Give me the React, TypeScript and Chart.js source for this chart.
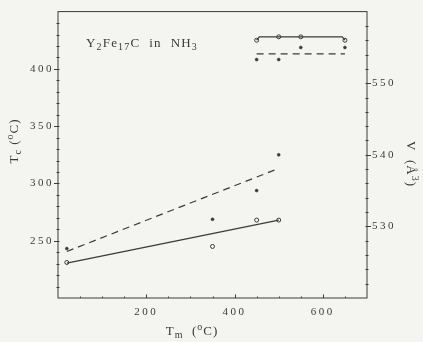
import React, { useEffect, useRef } from 'react';
import { Chart, registerables } from 'chart.js';
Chart.register(...registerables);

// ---- data ----
const TM_OPEN = [20, 350, 450, 500];
const TC_OPEN = [231, 245, 268, 268];
const TM_OPEN_HI = [450, 500, 550, 650];
const TC_OPEN_HI = [425, 428, 428, 425];
const TM_FILLED = [20, 350, 450, 500];
const V_FILLED = [526.9, 531.0, 535.0, 540.0];
const TM_FILLED_HI = [450, 500, 550, 650];
const V_FILLED_HI = [553.3, 553.3, 555.0, 555.0];
const TC_FIT_X = [20, 500];
const TC_FIT_Y = [230.5, 268];
const TC_FIT_HI_X = [450, 456, 644, 650];
const TC_FIT_HI_Y = [425, 428, 428, 425];
const V_FIT_X = [20, 500];
const V_FIT_Y = [526.5, 538.1];
const V_FIT_HI_X = [450, 650];
const V_FIT_HI_Y = [554.1, 554.1];
const X_TICKS = [200, 400, 600];
const TC_TICKS = [250, 300, 350, 400];
const V_TICKS = [530, 540, 550];

const INK = '#3a3a3a';
const BG = '#f4f4f1';
const FONT = "'Liberation Serif', 'DejaVu Serif', serif";

const pts = (xs: number[], ys: number[]) => xs.map((x, i) => ({ x, y: ys[i] }));

type Part = [string, number]; // 0 normal, 1 sub, 2 sup
function drawRich(ctx: CanvasRenderingContext2D, parts: Part[], size: number) {
  const fontFor = (m: number) => `${m === 0 ? size : Math.round(size * 0.75)}px ${FONT}`;
  let total = 0;
  for (const [t, m] of parts) { ctx.font = fontFor(m); total += ctx.measureText(t).width; }
  let x = -total / 2;
  ctx.textAlign = 'left';
  ctx.textBaseline = 'middle';
  for (const [t, m] of parts) {
    ctx.font = fontFor(m);
    const dy = m === 1 ? size * 0.28 : m === 2 ? -size * 0.35 : 0;
    ctx.fillText(t, x, dy);
    x += ctx.measureText(t).width;
  }
}

const decorPlugin = {
  id: 'decor',
  beforeDraw(chart: any) {
    const ctx = chart.ctx as CanvasRenderingContext2D;
    ctx.save();
    ctx.fillStyle = BG;
    ctx.fillRect(0, 0, chart.width, chart.height);
    ctx.restore();
    (ctx as any).letterSpacing = '2.5px';
  },
  afterDraw(chart: any) {
    const ctx = chart.ctx as CanvasRenderingContext2D;
    const a = chart.chartArea;
    const sx = chart.scales.x, sy = chart.scales.y, sv = chart.scales.y1;
    ctx.save();
    ctx.strokeStyle = INK;
    ctx.lineWidth = 1;
    ctx.strokeRect(a.left, a.top, a.right - a.left, a.bottom - a.top);
    ctx.beginPath();
    // left axis ticks
    for (let v = 210; v < 450; v += 10) {
      const y = Math.round(sy.getPixelForValue(v)) + 0.5;
      const major = v % 50 === 0;
      ctx.moveTo(a.left - (major ? 4 : 1.5), y);
      ctx.lineTo(a.left + 1.5, y);
    }
    // right axis ticks
    for (let v = 522; v < 560; v += 2) {
      const y = Math.round(sv.getPixelForValue(v)) + 0.5;
      const major = v % 10 === 0;
      ctx.moveTo(a.right - 1.5, y);
      ctx.lineTo(a.right + (major ? 4 : 1.5), y);
    }
    // bottom axis ticks
    for (let v = 50; v < 700; v += 50) {
      const x = Math.round(sx.getPixelForValue(v)) + 0.5;
      const major = v % 200 === 0;
      ctx.moveTo(x, a.bottom);
      ctx.lineTo(x, a.bottom - (major ? 3.5 : 1.5));
    }
    ctx.stroke();

    ctx.fillStyle = INK;
    (ctx as any).letterSpacing = '1px';
    // left title
    ctx.save();
    ctx.translate(15, 141);
    ctx.rotate(-Math.PI / 2);
    drawRich(ctx, [['T', 0], ['c', 1], [' (', 0], ['o', 2], ['C)', 0]], 13);
    ctx.restore();
    // right title
    ctx.save();
    ctx.translate(410, 164);
    ctx.rotate(Math.PI / 2);
    drawRich(ctx, [['V  (Å', 0], ['3', 2], [')', 0]], 13);
    ctx.restore();
    // bottom title
    ctx.save();
    ctx.translate(192, 332);
    drawRich(ctx, [['T', 0], ['m', 1], ['  (', 0], ['o', 2], ['C)', 0]], 13);
    ctx.restore();
    // annotation
    ctx.save();
    (ctx as any).letterSpacing = '1.2px';
    ctx.translate(142, 44);
    drawRich(ctx, [['Y', 0], ['2', 1], ['Fe', 0], ['17', 1], ['C  in  NH', 0], ['3', 1]], 13);
    ctx.restore();
    ctx.restore();
  },
};

export default function App() {
  const ref = useRef<HTMLCanvasElement | null>(null);
  useEffect(() => {
    if (!ref.current) return;
    const tickFont = { family: FONT, size: 11 };
    const chart = new Chart(ref.current, {
      type: 'scatter',
      data: {
        datasets: [
          { data: pts(TC_FIT_X, TC_FIT_Y), yAxisID: 'y', showLine: true, borderColor: INK, borderWidth: 1.2, pointRadius: 0 },
          { data: pts(TC_FIT_HI_X, TC_FIT_HI_Y), yAxisID: 'y', showLine: true, borderColor: INK, borderWidth: 1.2, pointRadius: 0 },
          { data: pts(V_FIT_X, V_FIT_Y), yAxisID: 'y1', showLine: true, borderColor: INK, borderWidth: 1.2, borderDash: [7, 5], pointRadius: 0 },
          { data: pts(V_FIT_HI_X, V_FIT_HI_Y), yAxisID: 'y1', showLine: true, borderColor: INK, borderWidth: 1.2, borderDash: [7, 5], pointRadius: 0 },
          { data: pts(TM_OPEN, TC_OPEN), yAxisID: 'y', pointRadius: 2, borderWidth: 1, borderColor: INK, backgroundColor: BG },
          { data: pts(TM_OPEN_HI, TC_OPEN_HI), yAxisID: 'y', pointRadius: 2, borderWidth: 1, borderColor: INK, backgroundColor: BG },
          { data: pts(TM_FILLED, V_FILLED), yAxisID: 'y1', pointRadius: 1.5, borderWidth: 0.5, borderColor: INK, backgroundColor: INK },
          { data: pts(TM_FILLED_HI, V_FILLED_HI), yAxisID: 'y1', pointRadius: 1.5, borderWidth: 0.5, borderColor: INK, backgroundColor: INK },
        ],
      },
      options: {
        responsive: false,
        animation: false,
        layout: { padding: { top: 9, left: 0, right: 0, bottom: 0 } },
        plugins: { legend: { display: false }, tooltip: { enabled: false } },
        scales: {
          x: {
            type: 'linear', position: 'bottom', min: 0, max: 700,
            afterBuildTicks: (s: any) => { s.ticks = X_TICKS.map((v) => ({ value: v })); },
            afterFit: (s: any) => { s.height = 44; },
            ticks: { font: tickFont, color: INK, padding: 8, maxRotation: 0, autoSkip: false },
            grid: { display: false, drawTicks: false },
            border: { display: false },
          },
          y: {
            type: 'linear', position: 'left', min: 200, max: 450,
            afterBuildTicks: (s: any) => { s.ticks = TC_TICKS.map((v) => ({ value: v })); },
            afterFit: (s: any) => { s.width = 58; },
            ticks: { font: tickFont, color: INK, padding: 4, autoSkip: false },
            grid: { display: false, drawTicks: false },
            border: { display: false },
          },
          y1: {
            type: 'linear', position: 'right', min: 520, max: 560,
            afterBuildTicks: (s: any) => { s.ticks = V_TICKS.map((v) => ({ value: v })); },
            afterFit: (s: any) => { s.width = 56; },
            ticks: { font: tickFont, color: INK, padding: 5, autoSkip: false },
            grid: { display: false, drawTicks: false },
            border: { display: false },
          },
        },
      },
      plugins: [decorPlugin],
    });
    return () => chart.destroy();
  }, []);
  return (
    <div style={{ position: 'absolute', left: 0, top: 0, width: 423, height: 342, background: BG }}>
      <canvas ref={ref} width={423} height={342} />
    </div>
  );
}
